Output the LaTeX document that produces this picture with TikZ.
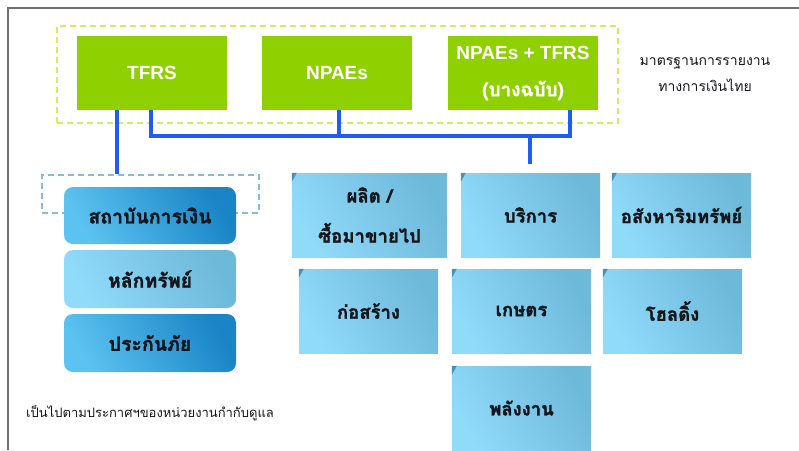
\documentclass[tikz,border=0pt]{standalone}
\usepackage{fontspec}
\setmainfont{Liberation Sans}
\newfontfamily\thai[Script=Thai]{Loma}
\newfontfamily\thaibold[Script=Thai,FakeBold=1.6]{Loma Bold}
\usetikzlibrary{calc}
\definecolor{framegray}{HTML}{707070}
\definecolor{stdgreen}{HTML}{8FD100}
\definecolor{dashgreen}{HTML}{CDEE66}
\definecolor{linkblue}{HTML}{1F5CF0}
\definecolor{dashblue}{HTML}{86BCD4}
\definecolor{lightA}{HTML}{90DAFA}
\definecolor{lightB}{HTML}{6DB9DA}
\definecolor{deepA}{HTML}{5CC2F0}
\definecolor{deepB}{HTML}{1985C6}
\definecolor{foldblue}{HTML}{4A90B5}
\definecolor{inktext}{HTML}{15151C}
\tikzset{
  stdbox/.style={fill=stdgreen, draw=none, minimum width=150pt, minimum height=74pt,
    text=white, font=\fontsize{19}{37}\selectfont\bfseries, align=center, inner sep=0pt},
  conn/.style={draw=linkblue, line width=4pt},
  groupdash/.style={draw=dashgreen, line width=1.6pt, dash pattern=on 6pt off 4pt},
  findash/.style={draw=dashblue, line width=1.6pt, dash pattern=on 6pt off 4pt},
  deepbox/.style={rounded corners=9pt, minimum width=172pt, minimum height=57pt,
    left color=deepA, right color=deepB, shading angle=120, draw=none,
    text=inktext, font=\thaibold\fontsize{19.5}{22}\selectfont, inner sep=0pt},
  palebox/.style={deepbox, left color=lightA, right color=lightB, shading angle=120},
  sectorbox/.style={minimum width=139pt, minimum height=84pt, draw=none,
    left color=lightA, right color=lightB, shading angle=120,
    text=inktext, font=\thaibold\fontsize{18.5}{40}\selectfont, align=center, inner sep=0pt},
  notetext/.style={text=inktext, font=\thai\fontsize{14}{26}\selectfont, align=center, inner sep=0pt}
}
\newcommand{\fold}[1]{\fill[foldblue] (#1.north west) -- ++(5pt,0) -- ++(-5pt,-9pt) -- cycle;}
\begin{document}
\begin{tikzpicture}[x=1pt,y=-1pt]
\useasboundingbox (0,0) rectangle (799,450);
\fill[white] (0,0) rectangle (799,450);
% outer frame (top and left)
\draw[framegray, line width=1.5pt] (8,450) -- (8,8) -- (799,8);

% group of standards
\node[groupdash, minimum width=561pt, minimum height=97pt, inner sep=0pt] (grp) at (337.5,74.5) {};
\node[stdbox] (tfrs) at (152,73) {TFRS};
\node[stdbox] (npaes) at (337,73) {NPAEs};
\node[stdbox] (npt) at (523,73) {NPAEs + TFRS\\{\thaibold (บางฉบับ)}};
\node[notetext] (lbl) at (705,75) {มาตรฐานการรายงาน\\ทางการเงินไทย};

% financial institutions group
\node[findash, minimum width=217pt, minimum height=38pt, inner sep=0pt] (fgrp) at (150.5,194) {};
\node[deepbox] (fin) at (150,215.5) {สถาบันการเงิน};
\node[palebox, minimum height=58pt] (sec) at (150,279) {หลักทรัพย์};
\node[deepbox, minimum height=58pt] (ins) at (150,343) {ประกันภัย};
\node[notetext, font=\thai\fontsize{13}{14}\selectfont, anchor=west] (foot) at (26,413) {เป็นไปตามประกาศฯของหน่วยงานกำกับดูแล};

% sectors
\node[sectorbox, minimum width=155pt] (prod) at (369.5,215) {ผลิต /\\ซื้อมาขายไป};
\node[sectorbox] (serv) at (530.5,215) {บริการ};
\node[sectorbox] (real) at (681.5,215) {อสังหาริมทรัพย์};
\node[sectorbox] (cons) at (368.5,311) {ก่อสร้าง};
\node[sectorbox] (agri) at (521.5,311) {เกษตร};
\node[sectorbox] (hold) at (672.5,311) {โฮลดิ้ง};
\node[sectorbox] (energy) at (521.5,408) {พลังงาน};
\foreach \n in {prod,serv,real,cons,agri,hold,energy}{\fold{\n}}

% connectors
\coordinate (ja) at (117,0);
\coordinate (jb) at (151,136);
\coordinate (jc) at (570,136);
\coordinate (jd) at (339,136);
\coordinate (je) at (530,136);
\coordinate (jf) at (530,164);
\draw[conn] (tfrs.south -| ja) -- (fgrp.north -| ja);
\draw[conn] (tfrs.south -| jb) -- (jb) -- (jc) -- (npt.south -| jc);
\draw[conn] (npaes.south -| jd) -- (jd);
\draw[conn] (je) -- (jf);
\end{tikzpicture}
\end{document}
